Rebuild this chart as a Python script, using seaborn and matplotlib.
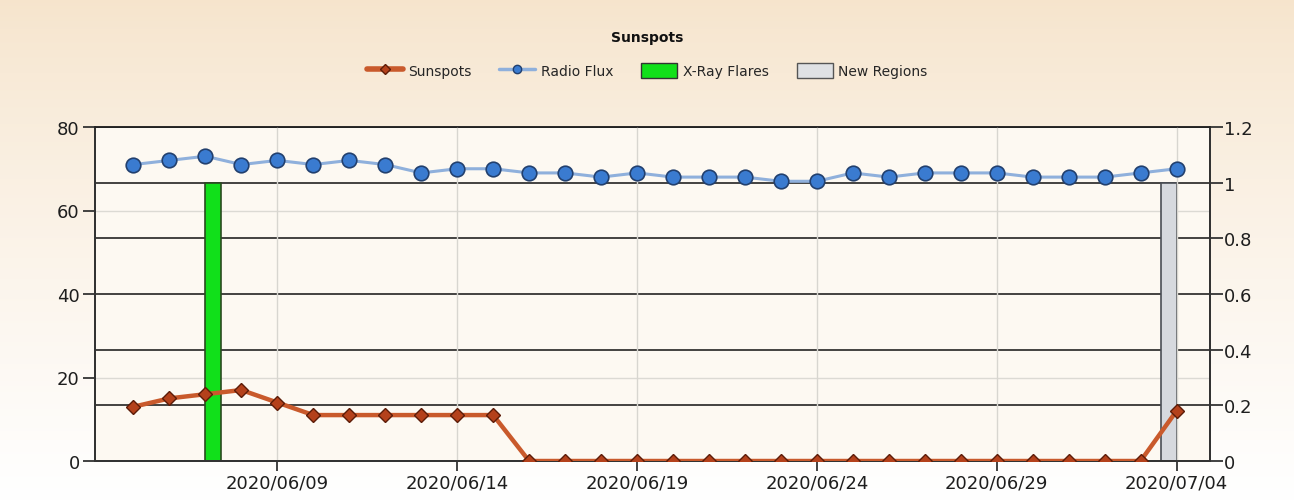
import numpy as np
import matplotlib
matplotlib.use("Agg")
import matplotlib.pyplot as plt
import seaborn as sns
from matplotlib.lines import Line2D
from matplotlib.patches import Patch

# data (2020/06/05 .. 2020/07/04)
dates = ['2020/06/05', '2020/06/06', '2020/06/07', '2020/06/08', '2020/06/09',
         '2020/06/10', '2020/06/11', '2020/06/12', '2020/06/13', '2020/06/14',
         '2020/06/15', '2020/06/16', '2020/06/17', '2020/06/18', '2020/06/19',
         '2020/06/20', '2020/06/21', '2020/06/22', '2020/06/23', '2020/06/24',
         '2020/06/25', '2020/06/26', '2020/06/27', '2020/06/28', '2020/06/29',
         '2020/06/30', '2020/07/01', '2020/07/02', '2020/07/03', '2020/07/04']
sunspots = [13, 15, 16, 17, 14, 11, 11, 11, 11, 11, 11, 0, 0, 0, 0,
            0, 0, 0, 0, 0, 0, 0, 0, 0, 0, 0, 0, 0, 0, 12]
radio_flux = [71, 72, 73, 71, 72, 71, 72, 71, 69, 70, 70, 69, 69, 68, 69,
              68, 68, 68, 67, 67, 69, 68, 69, 69, 69, 68, 68, 68, 69, 70]
xray_flares = [0, 0, 1, 0, 0, 0, 0, 0, 0, 0, 0, 0, 0, 0, 0,
               0, 0, 0, 0, 0, 0, 0, 0, 0, 0, 0, 0, 0, 0, 0]
new_regions = [0, 0, 0, 0, 0, 0, 0, 0, 0, 0, 0, 0, 0, 0, 0,
               0, 0, 0, 0, 0, 0, 0, 0, 0, 0, 0, 0, 0, 0, 1]
tick_labels = ['2020/06/09', '2020/06/14', '2020/06/19',
               '2020/06/24', '2020/06/29', '2020/07/04']

sns.set_style('white')
plt.rcParams['font.family'] = ['DejaVu Sans']

x = np.arange(len(dates))
tick_pos = [dates.index(d) for d in tick_labels]

fig = plt.figure(figsize=(12.94, 5.02), dpi=100)

# warm gradient background
bg = fig.add_axes([0, 0, 1, 1], zorder=-10)
grad = np.linspace(0, 1, 256)[:, None]
top = np.array([0.965, 0.895, 0.800])
bot = np.array([1.0, 1.0, 1.0])
img = top[None, None, :] * (1 - grad[..., None] ** 0.8) + bot[None, None, :] * grad[..., None] ** 0.8
bg.imshow(img, aspect='auto', extent=[0, 1, 0, 1])
bg.axis('off')

rect = [95 / 1294, 40 / 502, 1115 / 1294, 334 / 502]
ax2 = fig.add_axes(rect, zorder=1)   # right axis: bars + grid
ax = fig.add_axes(rect, zorder=2, sharex=ax2)  # left axis: lines
ax.patch.set_visible(False)
ax2.set_facecolor('#fdf9f2')

# bars on the right axis
ax2.bar(x + 0.21, xray_flares, width=0.42, color='#11e01a', edgecolor='#2a4a20', linewidth=1.2)
ax2.bar(x - 0.21, new_regions, width=0.42, color='#d6d9de', edgecolor='#4a4e55', linewidth=1.2)
ax2.set_ylim(0, 1.2)
ax2.set_yticks([0, 0.2, 0.4, 0.6, 0.8, 1.0, 1.2])
ax2.set_yticklabels(['0', '0.2', '0.4', '0.6', '0.8', '1', '1.2'])
ax2.yaxis.tick_right()
ax2.set_yticks([0.3, 0.9], minor=True)
ax2.set_axisbelow(True)
ax2.yaxis.grid(True, which='major', color='#111111', linewidth=1.1)
ax2.yaxis.grid(True, which='minor', color='#dcdad4', linewidth=1.0)
ax2.tick_params(axis='y', which='major', right=True, length=9, width=1.3, color='#333333',
                labelsize=13, labelcolor='#1e1e1e', pad=1)
ax2.tick_params(axis='y', which='minor', length=0)
ax2.tick_params(axis='x', bottom=False, labelbottom=False)

# lines on the left axis
sns.lineplot(x=x, y=radio_flux, ax=ax, color='#8fb0dc', linewidth=2.2, marker='o',
             markersize=10.5, markerfacecolor='#3a7bd0', markeredgecolor='#22406e',
             markeredgewidth=1.2, zorder=3)
sns.lineplot(x=x, y=sunspots, ax=ax, color='#c95a2c', linewidth=3.2, marker='D',
             markersize=7, markerfacecolor='#b4411b', markeredgecolor='#5c1c08',
             markeredgewidth=1.0, zorder=4)
ax.set_ylim(0, 80)
ax.set_yticks([0, 20, 40, 60, 80])
ax.set_xlim(-1.07, 29.93)
ax.set_xticks(tick_pos)
ax.set_xticklabels(tick_labels)
ax.xaxis.grid(True, color='#d8d6d0', linewidth=1.0)
ax.tick_params(axis='y', left=True, length=9, width=1.3, color='#333333',
               labelsize=13, labelcolor='#1e1e1e', pad=2)
ax.tick_params(axis='x', bottom=True, length=7, width=1.3, color='#333333',
               labelsize=13, labelcolor='#1e1e1e', pad=2)
ax.set_xlabel('')
ax.set_ylabel('')

for a in (ax, ax2):
    for side in ('left', 'right', 'bottom'):
        a.spines[side].set_color('#333333')
        a.spines[side].set_linewidth(1.4)
    a.spines['top'].set_color('#222222')
    a.spines['top'].set_linewidth(1.1)

fig.text(0.5, 0.924, 'Sunspots', ha='center', va='center', fontsize=10,
         fontweight='bold', color='#111111')

handles = [
    Line2D([], [], color='#c95a2c', linewidth=4, marker='D', markersize=5,
           markerfacecolor='#b4411b', markeredgecolor='#5c1c08'),
    Line2D([], [], color='#8fb0dc', linewidth=2.5, marker='o', markersize=6,
           markerfacecolor='#3a7bd0', markeredgecolor='#22406e'),
    Patch(facecolor='#11e01a', edgecolor='#333333'),
    Patch(facecolor='#dfe1e4', edgecolor='#555555'),
]
fig.legend(handles, ['Sunspots', 'Radio Flux', 'X-Ray Flares', 'New Regions'],
           loc='center', bbox_to_anchor=(0.5, 0.857), ncol=4, frameon=False,
           fontsize=10, handlelength=2.6, handleheight=1.3, columnspacing=2.0,
           handletextpad=0.4)

fig.savefig('out.png', dpi=100)
